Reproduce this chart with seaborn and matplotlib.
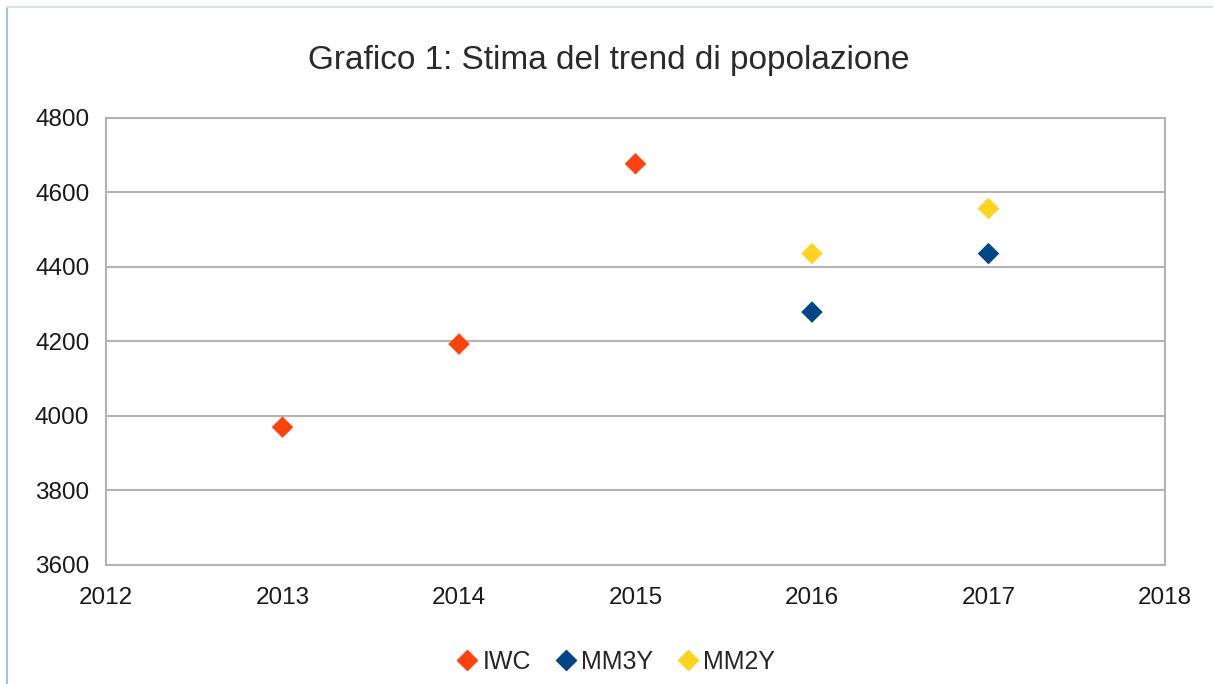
import pandas as pd
import seaborn as sns
import matplotlib.pyplot as plt
from matplotlib.lines import Line2D

# Data
iwc_years = [2013, 2014, 2015]
iwc_values = [3970, 4193, 4677]
mm3y_years = [2016, 2017]
mm3y_values = [4279, 4436]
mm2y_years = [2016, 2017]
mm2y_values = [4436, 4557]

series_names = ['IWC', 'MM3Y', 'MM2Y']
series_colors = ['#ff420e', '#004586', '#ffd320']

df = pd.concat([
    pd.DataFrame({'year': iwc_years, 'value': iwc_values, 'series': 'IWC'}),
    pd.DataFrame({'year': mm3y_years, 'value': mm3y_values, 'series': 'MM3Y'}),
    pd.DataFrame({'year': mm2y_years, 'value': mm2y_values, 'series': 'MM2Y'}),
])

sns.set_style('white')
plt.rcParams['font.family'] = ['Liberation Sans', 'DejaVu Sans']

fig = plt.figure(figsize=(12.13, 6.84), dpi=100)
ax = fig.add_axes([0.0874, 0.174, 0.873, 0.6535])

sns.scatterplot(data=df, x='year', y='value', hue='series', hue_order=series_names,
                palette=series_colors, marker='D', s=120, linewidth=0, ax=ax, legend=False)

ax.set_xlim(2012, 2018)
ax.set_ylim(3600, 4800)
ax.set_xticks(range(2012, 2019))
ax.set_yticks(range(3600, 4801, 200))
ax.set_xlabel('')
ax.set_ylabel('')
ax.grid(axis='y', color='#b3b3b3', linewidth=1.5)
for sp in ax.spines.values():
    sp.set_color('#b3b3b3')
    sp.set_linewidth(1.5)
ax.tick_params(axis='both', direction='out', length=8, width=1.5, color='#b3b3b3',
               labelsize=17.5, labelcolor='#1a1a1a', pad=4)
ax.tick_params(axis='x', pad=8)

fig.text(0.502, 0.912, 'Grafico 1: Stima del trend di popolazione', fontsize=24,
         color='#2a2a2a', ha='center', va='center')

handles = [Line2D([], [], marker='D', linestyle='', markersize=10, color=c) for c in series_colors]
fig.legend(handles, series_names, loc='center', bbox_to_anchor=(0.507, 0.032), ncol=3,
           frameon=False, fontsize=18, handletextpad=0.1, columnspacing=0.9, handlelength=1.0)

# light blue border at top and left of the picture
fig.add_artist(Line2D([0.006, 0.006], [0, 0.99], transform=fig.transFigure, color='#a6bfe3', linewidth=1.5))
fig.add_artist(Line2D([0.006, 1], [0.99, 0.99], transform=fig.transFigure, color='#d5e2f2', linewidth=1.5))

fig.savefig('out.png', dpi=100)
